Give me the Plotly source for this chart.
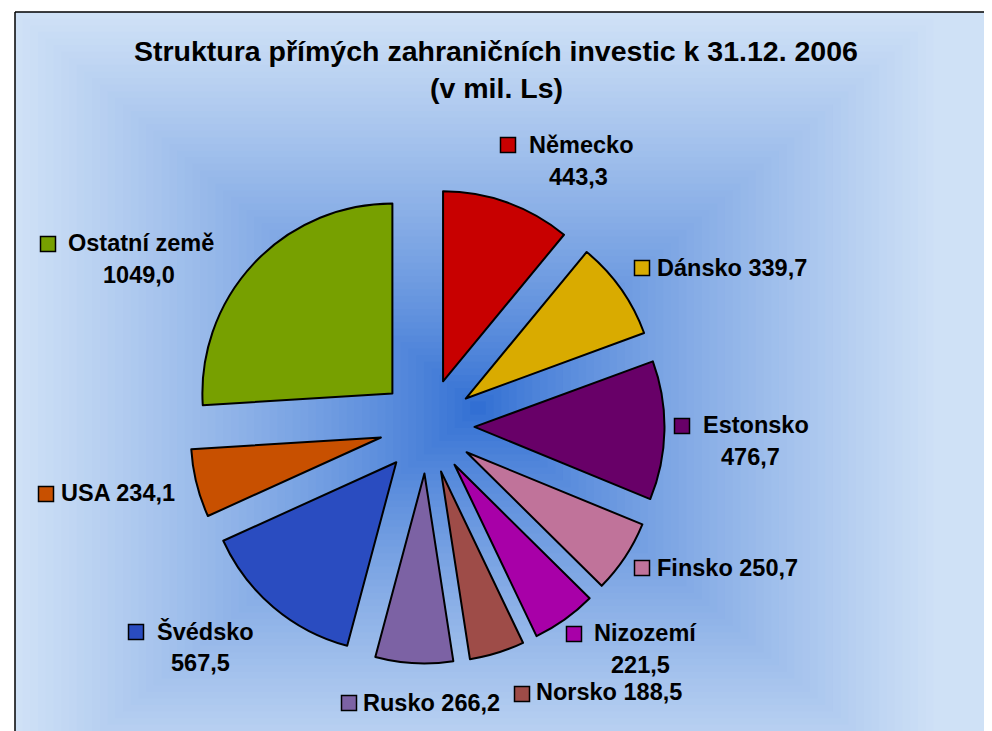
import plotly.graph_objects as go

# ---- data ----
countries = ["Německo", "Dánsko", "Estonsko", "Finsko", "Nizozemí",
             "Norsko", "Rusko", "Švédsko", "USA", "Ostatní země"]
values = [443.3, 339.7, 476.7, 250.7, 221.5, 188.5, 266.2, 567.5, 234.1, 1049.0]
value_labels = ["443,3", "339,7", "476,7", "250,7", "221,5",
                "188,5", "266,2", "567,5", "234,1", "1049,0"]
colors = ["#c80000", "#d9ab00", "#680068", "#c0739a", "#a800a8",
          "#9e4c48", "#7c62a4", "#2a4cc0", "#c85000", "#77a000"]
title_lines = ["Struktura přímých zahraničních investic k 31.12. 2006", "(v mil. Ls)"]

W, H = 992, 731
OFF = 8  # page body margin
FONT = "Liberation Sans, Arial, sans-serif"


def px(x):
    return (x - OFF) / W


def py(y):
    return 1 - (y - OFF) / H


def hex2rgb(h):
    h = h.lstrip("#")
    return tuple(int(h[i:i + 2], 16) for i in (0, 2, 4))


def lerp(c1, c2, f):
    a, b = hex2rgb(c1), hex2rgb(c2)
    return "rgb(%d,%d,%d)" % tuple(round(a[i] + (b[i] - a[i]) * f) for i in range(3))


# ---- pie geometry (pixels) ----
cx_pie, cy_pie = 427, 426
radius, pull = 190, 0.25
half = radius * (1 + pull)

fig = go.Figure()
fig.add_trace(go.Pie(
    labels=countries, values=values, sort=False, direction="clockwise",
    rotation=0, pull=pull, textinfo="none", hoverinfo="label+value",
    marker=dict(colors=colors, line=dict(color="black", width=2)),
    showlegend=False,
    domain=dict(x=[px(cx_pie - half), px(cx_pie + half)],
                y=[py(cy_pie + half), py(cy_pie - half)]),
))

shapes = []
# chart area with rectangular "from centre" gradient
edge_col, centre_col = "#cfe1f6", "#2c6bd2"
shapes.append(dict(type="rect", xref="paper", yref="paper", layer="below",
                   x0=px(15), x1=1.05, y0=-0.05, y1=py(12),
                   fillcolor=edge_col, line=dict(width=0)))
gcx, gcy, GW, GH = 478, 408, 463, 396
N = 60
for i in range(N, 0, -1):
    t = i / N
    f = t ** 0.8
    shapes.append(dict(type="rect", xref="paper", yref="paper", layer="below",
                       x0=px(gcx - GW * t), x1=px(gcx + GW * t),
                       y0=py(gcy + GH * t), y1=py(gcy - GH * t),
                       fillcolor=lerp(centre_col, edge_col, f), line=dict(width=0)))
# border (left and top edges are visible)
shapes.append(dict(type="line", xref="paper", yref="paper", layer="below",
                   x0=px(15), x1=px(15), y0=-0.05, y1=py(12),
                   line=dict(color="black", width=1.5)))
shapes.append(dict(type="line", xref="paper", yref="paper", layer="below",
                   x0=px(15), x1=1.05, y0=py(12), y1=py(12),
                   line=dict(color="black", width=1.5)))

# label layout: (square centre x, y, name left x, name y, value centre x, value y or None)
label_pos = [
    (508, 145, 527, 145, 578, 177),
    (642, 268, 655, 268, None, None),
    (682, 426, 701, 425, 750, 457),
    (642, 568, 655, 568, None, None),
    (574, 634, 592, 633, 640, 665),
    (522, 694, 534, 692, None, None),
    (349, 703, 361, 703, None, None),
    (136, 632, 155, 631, 200, 663),
    (46, 494, 59, 493, None, None),
    (48, 244, 66, 243, 139, 275),
]

annotations = []
sq = 7.5
for name, vlab, col, (sx, sy, nx, ny, vx, vy) in zip(countries, value_labels, colors, label_pos):
    shapes.append(dict(type="rect", xref="paper", yref="paper", layer="above",
                       x0=px(sx - sq), x1=px(sx + sq), y0=py(sy + sq), y1=py(sy - sq),
                       fillcolor=col, line=dict(color="black", width=1.5)))
    text = name if vx is not None else f"{name} {vlab}"
    annotations.append(dict(text=f"<b>{text}</b>", xref="paper", yref="paper",
                            x=px(nx), y=py(ny), xanchor="left", yanchor="middle",
                            showarrow=False, font=dict(family=FONT, size=23.5, color="black")))
    if vx is not None:
        annotations.append(dict(text=f"<b>{vlab}</b>", xref="paper", yref="paper",
                                x=px(vx), y=py(vy), xanchor="center", yanchor="middle",
                                showarrow=False, font=dict(family=FONT, size=23.5, color="black")))

for line, ty in zip(title_lines, [51, 88]):
    annotations.append(dict(text=f"<b>{line}</b>", xref="paper", yref="paper",
                            x=px(496), y=py(ty), xanchor="center", yanchor="middle",
                            showarrow=False, font=dict(family=FONT, size=28.5, color="black")))

fig.update_layout(
    width=W, height=H, margin=dict(l=0, r=0, t=0, b=0),
    paper_bgcolor="white", plot_bgcolor="white",
    shapes=shapes, annotations=annotations, showlegend=False,
)

fig.write_html("out.html")
